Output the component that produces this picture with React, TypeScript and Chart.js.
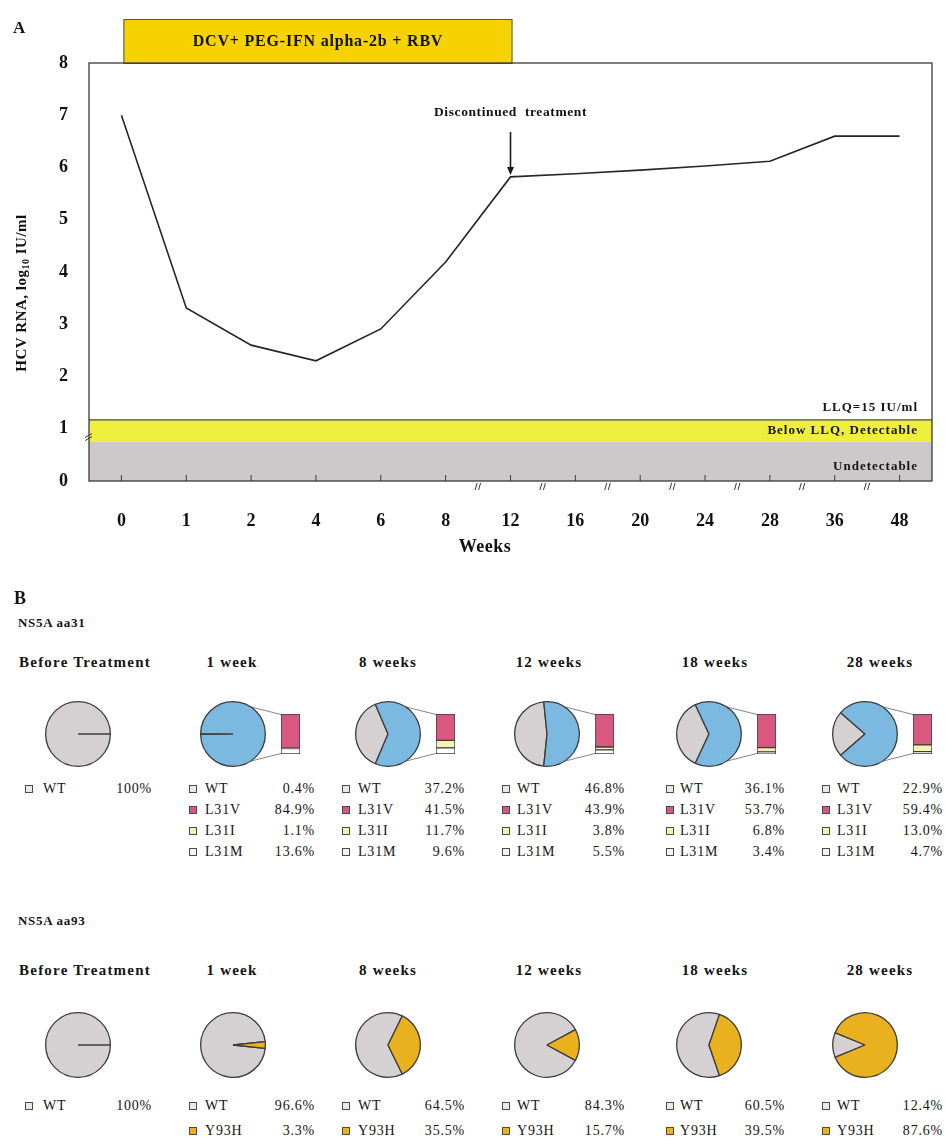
import React, { useEffect, useRef } from 'react';
import { Chart, registerables } from 'chart.js';

Chart.register(...registerables);

const SERIF = '"Liberation Serif", "Times New Roman", "DejaVu Serif", serif';

// ---------------- Panel A data ----------------
const weeks = ['0', '1', '2', '4', '6', '8', '12', '16', '20', '24', '28', '36', '48'];
const hcvRnaLog = [7.0, 3.31, 2.6, 2.3, 2.91, 4.19, 5.82, 5.88, 5.95, 6.03, 6.12, 6.6, 6.6];
const yAxisMin = 0;
const yAxisMax = 8;
const treatmentWeeks = ['0', '12'];
const treatmentText = 'DCV+ PEG-IFN alpha-2b + RBV';
const discontinuedWeek = '12';
const discontinuedText = 'Discontinued  treatment';
const undetectableLevel = 0.75;
const llqLevel = 1.17;
const bandTexts = ['LLQ=15 IU/ml', 'Below LLQ, Detectable', 'Undetectable'];
const brokenAfterWeeks = ['8', '12', '16', '20', '24', '28', '36'];

// ---------------- Panel B data ----------------
const timepoints = ['Before Treatment', '1 week', '8 weeks', '12 weeks', '18 weeks', '28 weeks'];
const aa31Labels = ['WT', 'L31V', 'L31I', 'L31M'];
const aa31WT = [100, 0.4, 37.2, 46.8, 36.1, 22.9];
const aa31L31V = [null, 84.9, 41.5, 43.9, 53.7, 59.4];
const aa31L31I = [null, 1.1, 11.7, 3.8, 6.8, 13.0];
const aa31L31M = [null, 13.6, 9.6, 5.5, 3.4, 4.7];
const aa93Labels = ['WT', 'Y93H'];
const aa93WT = [100, 96.6, 64.5, 84.3, 60.5, 12.4];
const aa93Y93H = [null, 3.3, 35.5, 15.7, 39.5, 87.6];

// ---------------- styles / layout ----------------
const WT_FILL = '#d5d0d2';
const MUT_BLUE = '#7bb9e1';
const L31V_PINK = '#d8587f';
const L31I_YELLOW = '#f3f3b6';
const L31M_WHITE = '#ffffff';
const Y93H_GOLD = '#e8b11d';
const EDGE = '#3c3c3c';
const aa31MarkerColors = ['#ebe8e8', L31V_PINK, '#eef2b0', '#f5f5f5'];
const aa93MarkerColors = ['#ebe8e8', Y93H_GOLD];

const colPieX = [78, 233, 388, 547, 709, 865];
const colTitleX = [85, 232, 388, 549, 715, 880];
const colMarkerX = [25, 189, 342, 502, 666, 822];
const colLabelX = [43, 205, 358, 517, 680, 837];
const colValueRight = [152, 315, 465, 625, 785, 943];
const PIE_HALF = 35;
const BAR_OFFSET = 48;
const BAR_W = 19;
const BAR_H = 40;
const CONNECT_ANGLE = 57;

const fmtPct = (v: number) => (v === 100 ? '100%' : v.toFixed(1) + '%');

const panelAPlugin = {
  id: 'panelA',
  beforeDatasetsDraw(chart: any) {
    const { ctx, chartArea: ca, scales } = chart;
    const xs = scales.x;
    const ys = scales.y;
    ctx.save();
    const y0 = ys.getPixelForValue(yAxisMin);
    const yU = ys.getPixelForValue(undetectableLevel);
    const yL = ys.getPixelForValue(llqLevel);
    ctx.fillStyle = '#cdc8c9';
    ctx.fillRect(ca.left, yU, ca.right - ca.left, y0 - yU);
    ctx.fillStyle = '#eeee3c';
    ctx.fillRect(ca.left, yL, ca.right - ca.left, yU - yL);
    ctx.strokeStyle = '#4a4a4a';
    ctx.lineWidth = 1.3;
    ctx.beginPath();
    ctx.moveTo(ca.left, yL);
    ctx.lineTo(ca.right, yL);
    ctx.stroke();

    ctx.fillStyle = '#151515';
    ctx.textAlign = 'right';
    ctx.textBaseline = 'middle';
    ctx.font = `bold 13px ${SERIF}`;
    (ctx as any).letterSpacing = '1px';
    ctx.fillText(bandTexts[0], ca.right - 14, yL - 12);
    ctx.fillText(bandTexts[1], ca.right - 14, (yL + yU) / 2);
    ctx.fillText(bandTexts[2], ca.right - 14, y0 - 14);

    // treatment box
    const bx0 = xs.getPixelForValue(weeks.indexOf(treatmentWeeks[0])) + 2;
    const bx1 = xs.getPixelForValue(weeks.indexOf(treatmentWeeks[1])) + 2;
    const boxTop = 19;
    ctx.fillStyle = '#f6d300';
    ctx.fillRect(bx0, boxTop, bx1 - bx0, ca.top - boxTop);
    ctx.strokeStyle = '#555';
    ctx.lineWidth = 1;
    ctx.strokeRect(bx0 + 0.5, boxTop + 0.5, bx1 - bx0 - 1, ca.top - boxTop);
    ctx.fillStyle = '#111';
    ctx.textAlign = 'center';
    ctx.font = `bold 16px ${SERIF}`;
    (ctx as any).letterSpacing = '0.8px';
    ctx.fillText(treatmentText, (bx0 + bx1) / 2, (boxTop + ca.top) / 2 + 1);

    // discontinued arrow
    const di = weeks.indexOf(discontinuedWeek);
    const dx = xs.getPixelForValue(di);
    const dy = ys.getPixelForValue(hcvRnaLog[di]);
    ctx.font = `bold 13.5px ${SERIF}`;
    (ctx as any).letterSpacing = '0.6px';
    ctx.fillText(discontinuedText, dx, 113);
    ctx.strokeStyle = '#1a1a1a';
    ctx.lineWidth = 1.6;
    ctx.beginPath();
    ctx.moveTo(dx, 132);
    ctx.lineTo(dx, dy - 9);
    ctx.stroke();
    ctx.fillStyle = '#1a1a1a';
    ctx.beginPath();
    ctx.moveTo(dx - 3.5, dy - 10);
    ctx.lineTo(dx + 3.5, dy - 10);
    ctx.lineTo(dx, dy - 2);
    ctx.closePath();
    ctx.fill();
    ctx.restore();
  },
  afterDraw(chart: any) {
    const { ctx, chartArea: ca, scales } = chart;
    const xs = scales.x;
    const ys = scales.y;
    ctx.save();
    ctx.strokeStyle = '#3a3a3a';
    ctx.lineWidth = 1.3;
    ctx.strokeRect(ca.left, ca.top, ca.right - ca.left, ca.bottom - ca.top);
    ctx.lineWidth = 1;
    ctx.beginPath();
    weeks.forEach((_, i) => {
      const px = xs.getPixelForValue(i);
      ctx.moveTo(px, ca.bottom);
      ctx.lineTo(px, ca.bottom - 6);
    });
    brokenAfterWeeks.forEach((w) => {
      const px = xs.getPixelForValue(weeks.indexOf(w) + 0.5);
      ctx.moveTo(px - 3, ca.bottom + 9);
      ctx.lineTo(px - 1, ca.bottom + 2);
      ctx.moveTo(px + 0.5, ca.bottom + 9);
      ctx.lineTo(px + 2.5, ca.bottom + 2);
    });
    const yb = ys.getPixelForValue(0.85);
    ctx.moveTo(ca.left - 4, yb + 1);
    ctx.lineTo(ca.left + 3, yb - 3);
    ctx.moveTo(ca.left - 4, yb + 4);
    ctx.lineTo(ca.left + 3, yb);
    ctx.stroke();

    // y axis title
    ctx.fillStyle = '#111';
    ctx.textBaseline = 'middle';
    ctx.textAlign = 'left';
    (ctx as any).letterSpacing = '0.5px';
    const parts: [string, number, number][] = [
      ['HCV RNA, log', 15, 0],
      ['10', 10, 4],
      [' IU/ml', 15, 0],
    ];
    let total = 0;
    parts.forEach(([t, s]) => {
      ctx.font = `bold ${s}px ${SERIF}`;
      total += ctx.measureText(t).width;
    });
    ctx.translate(22, 293);
    ctx.rotate(-Math.PI / 2);
    let cur = -total / 2;
    parts.forEach(([t, s, off]) => {
      ctx.font = `bold ${s}px ${SERIF}`;
      ctx.fillText(t, cur, off);
      cur += ctx.measureText(t).width;
    });
    ctx.setTransform(1, 0, 0, 1, 0, 0);
    ctx.textAlign = 'center';
    ctx.font = `bold 18px ${SERIF}`;
    (ctx as any).letterSpacing = '0.5px';
    ctx.fillText('Weeks', 485, 547);
    ctx.restore();
  },
};

function PanelA() {
  const ref = useRef<HTMLCanvasElement>(null);
  useEffect(() => {
    const tickFont = { family: SERIF, size: 18, weight: 'bold' as const };
    const chart = new Chart(ref.current!, {
      type: 'line',
      data: {
        labels: weeks,
        datasets: [
          {
            data: hcvRnaLog,
            borderColor: '#262626',
            borderWidth: 1.6,
            pointRadius: 0,
            tension: 0,
            fill: false,
          },
        ],
      },
      options: {
        responsive: false,
        animation: false,
        events: [],
        layout: { padding: { left: 0, right: 13, top: 63, bottom: 0 } },
        plugins: { legend: { display: false }, tooltip: { enabled: false } },
        scales: {
          x: {
            type: 'category',
            offset: true,
            grid: { display: false, drawTicks: false },
            border: { display: false },
            ticks: { autoSkip: false, maxRotation: 0, padding: 30, color: '#111', font: tickFont },
            afterFit: (s: any) => {
              s.height = 89;
            },
          },
          y: {
            min: yAxisMin,
            max: yAxisMax,
            grid: { display: false, drawTicks: false },
            border: { display: false },
            ticks: { stepSize: 1, padding: 21, color: '#111', font: tickFont },
            afterFit: (s: any) => {
              s.width = 89;
            },
          },
        },
      },
      plugins: [panelAPlugin],
    });
    return () => chart.destroy();
  }, []);
  return <canvas ref={ref} width={945} height={570} style={{ position: 'absolute', left: 0, top: 0 }} />;
}

const connectorPlugin = {
  id: 'connector',
  beforeDatasetsDraw(chart: any) {
    const arc = chart.getDatasetMeta(0).data[0];
    const { x, y, outerRadius } = arc.getProps(['x', 'y', 'outerRadius'], true);
    const ctx = chart.ctx;
    const a = (CONNECT_ANGLE * Math.PI) / 180;
    ctx.save();
    ctx.strokeStyle = '#666';
    ctx.lineWidth = 0.8;
    ctx.beginPath();
    ctx.moveTo(x + outerRadius * Math.cos(a), y - outerRadius * Math.sin(a));
    ctx.lineTo(chart.width, y - BAR_H / 2 + 0.5);
    ctx.moveTo(x + outerRadius * Math.cos(a), y + outerRadius * Math.sin(a));
    ctx.lineTo(chart.width, y + BAR_H / 2 - 0.5);
    ctx.stroke();
    ctx.restore();
  },
};

type BarSpec = { values: number[]; colors: string[] };

function PieCell({ cx, cy, values, colors, bar }: { cx: number; cy: number; values: number[]; colors: string[]; bar?: BarSpec }) {
  const pieRef = useRef<HTMLCanvasElement>(null);
  const barRef = useRef<HTMLCanvasElement>(null);
  const gap = BAR_OFFSET - PIE_HALF;
  useEffect(() => {
    const total = values.reduce((a, b) => a + b, 0);
    const rotation = 270 - (values[0] / total) * 180;
    const pie = new Chart(pieRef.current!, {
      type: 'pie',
      data: {
        labels: values.map((_, i) => String(i)),
        datasets: [
          { data: values, backgroundColor: colors, borderColor: EDGE, borderWidth: 1.3, hoverOffset: 0 },
        ],
      },
      options: {
        responsive: false,
        animation: false,
        events: [],
        rotation,
        layout: { padding: { left: 2, top: 2, bottom: 2, right: bar ? 2 + gap : 2 } },
        plugins: { legend: { display: false }, tooltip: { enabled: false } },
      },
      plugins: bar ? [connectorPlugin] : [],
    });
    let barChart: Chart | null = null;
    if (bar) {
      const barTotal = bar.values.reduce((a, b) => a + b, 0);
      barChart = new Chart(barRef.current!, {
        type: 'bar',
        data: {
          labels: [''],
          datasets: bar.values
            .map((v, i) => ({
              data: [v],
              backgroundColor: bar.colors[i],
              borderColor: EDGE,
              borderWidth: 1,
              borderSkipped: false as const,
              barPercentage: 1,
              categoryPercentage: 1,
            }))
            .reverse(),
        },
        options: {
          responsive: false,
          animation: false,
          events: [],
          layout: { padding: 0 },
          plugins: { legend: { display: false }, tooltip: { enabled: false } },
          scales: {
            x: { display: false, stacked: true },
            y: { display: false, stacked: true, min: 0, max: barTotal },
          },
        },
      });
    }
    return () => {
      pie.destroy();
      if (barChart) barChart.destroy();
    };
  }, []);
  return (
    <>
      <canvas
        ref={pieRef}
        width={2 * PIE_HALF + (bar ? gap : 0)}
        height={2 * PIE_HALF}
        style={{ position: 'absolute', left: cx - PIE_HALF, top: cy - PIE_HALF }}
      />
      {bar && (
        <canvas
          ref={barRef}
          width={BAR_W}
          height={BAR_H}
          style={{ position: 'absolute', left: cx + BAR_OFFSET, top: cy - BAR_H / 2 }}
        />
      )}
    </>
  );
}

function Label({
  x,
  y,
  size,
  bold = true,
  align = 'left',
  spacing = 0,
  children,
}: {
  x: number;
  y: number;
  size: number;
  bold?: boolean;
  align?: 'left' | 'center' | 'right';
  spacing?: number;
  children: React.ReactNode;
}) {
  const tx = align === 'center' ? '-50%' : align === 'right' ? '-100%' : '0';
  return (
    <div
      style={{
        position: 'absolute',
        left: x,
        top: y,
        transform: `translate(${tx}, -50%)`,
        fontFamily: SERIF,
        fontSize: size,
        fontWeight: bold ? 'bold' : 'normal',
        letterSpacing: spacing,
        lineHeight: 1,
        whiteSpace: 'nowrap',
        color: '#141414',
      }}
    >
      {children}
    </div>
  );
}

function Legend({
  col,
  top,
  spacing,
  labels,
  values,
  colors,
}: {
  col: number;
  top: number;
  spacing: number;
  labels: string[];
  values: (number | null)[];
  colors: string[];
}) {
  return (
    <>
      {labels.map((l, i) => {
        const v = values[i];
        if (v == null) return null;
        const y = top + i * spacing;
        return (
          <React.Fragment key={l}>
            <div
              style={{
                position: 'absolute',
                left: colMarkerX[col],
                top: y - 4,
                width: 6,
                height: 6,
                border: '1px solid #4a4a4a',
                background: colors[i],
              }}
            />
            <Label x={colLabelX[col]} y={y} size={14} bold={false} spacing={0.8}>
              {l}
            </Label>
            <Label x={colValueRight[col]} y={y} size={14} bold={false} spacing={0.8} align="right">
              {fmtPct(v)}
            </Label>
          </React.Fragment>
        );
      })}
    </>
  );
}

export default function App() {
  useEffect(() => {
    document.body.style.margin = '0';
  }, []);
  const row1Y = 734;
  const row2Y = 1045;
  return (
    <div style={{ position: 'relative', width: 945, height: 1141, background: '#fff', overflow: 'hidden' }}>
      <PanelA />
      <Label x={13} y={27} size={17}>
        A
      </Label>
      <Label x={14} y={598} size={18}>
        B
      </Label>
      <Label x={18} y={622} size={13} spacing={0.7}>
        NS5A aa31
      </Label>
      <Label x={18} y={920} size={13} spacing={0.7}>
        NS5A aa93
      </Label>
      {timepoints.map((t, c) => (
        <React.Fragment key={'t' + c}>
          <Label x={colTitleX[c]} y={662} size={15} spacing={1.2} align="center">
            {t}
          </Label>
          <Label x={colTitleX[c]} y={970} size={15} spacing={1.2} align="center">
            {t}
          </Label>
        </React.Fragment>
      ))}
      {timepoints.map((_, c) => {
        const muts = [aa31L31V[c], aa31L31I[c], aa31L31M[c]];
        const hasMut = muts.every((m) => m != null);
        const mutSum = hasMut ? (muts as number[]).reduce((a, b) => a + b, 0) : 0;
        const pieVals = hasMut ? [aa31WT[c], mutSum] : [aa31WT[c]];
        return (
          <React.Fragment key={'a31' + c}>
            <PieCell
              cx={colPieX[c]}
              cy={row1Y}
              values={pieVals}
              colors={[WT_FILL, MUT_BLUE]}
              bar={hasMut ? { values: muts as number[], colors: [L31V_PINK, L31I_YELLOW, L31M_WHITE] } : undefined}
            />
            <Legend
              col={c}
              top={789}
              spacing={21}
              labels={aa31Labels}
              values={[aa31WT[c], aa31L31V[c], aa31L31I[c], aa31L31M[c]]}
              colors={aa31MarkerColors}
            />
          </React.Fragment>
        );
      })}
      {timepoints.map((_, c) => {
        const y93 = aa93Y93H[c];
        const pieVals = y93 != null ? [aa93WT[c], y93] : [aa93WT[c]];
        return (
          <React.Fragment key={'a93' + c}>
            <PieCell cx={colPieX[c]} cy={row2Y} values={pieVals} colors={[WT_FILL, Y93H_GOLD]} />
            <Legend
              col={c}
              top={1106}
              spacing={25}
              labels={aa93Labels}
              values={[aa93WT[c], aa93Y93H[c]]}
              colors={aa93MarkerColors}
            />
          </React.Fragment>
        );
      })}
    </div>
  );
}
